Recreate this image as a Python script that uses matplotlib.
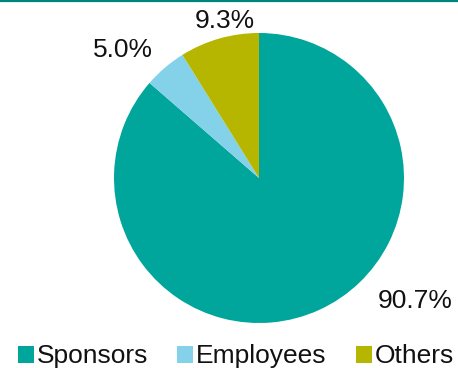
import matplotlib.pyplot as plt
from matplotlib.lines import Line2D

# Funding sources (percent)
labels = ["Sponsors", "Employees", "Others"]
values = [90.7, 5.0, 9.3]
colors = ["#00a59b", "#84d2ea", "#b6b600"]

# where each percentage label sits (data units, radius = 1)
label_pos = [(1.076, -0.845), (-0.935, 0.88), (-0.234, 1.085)]

plt.rcParams["font.family"] = ["Liberation Sans", "DejaVu Sans"]

fig = plt.figure(figsize=(4.58, 3.68), dpi=100)
ax = fig.add_axes([0, 0, 1, 1])

wedges, _ = ax.pie(values, colors=colors, startangle=90, counterclock=False,
                   radius=1, center=(0, 0), wedgeprops=dict(linewidth=0))

for v, (x, y) in zip(values, label_pos):
    ax.text(x, y, f"{v:.1f}%", ha="center", va="center", fontsize=19, color="#111111")

# 1 data unit = 145 px, centre of the pie at (259, 178) px from top-left
ax.set_xlim(-259 / 145, (458 - 259) / 145)
ax.set_ylim(-(368 - 178) / 145, 178 / 145)
ax.set_aspect("equal")
ax.axis("off")

fig.legend(wedges, labels, loc="lower center", bbox_to_anchor=(0.515, -0.03),
           ncol=3, frameon=False, fontsize=19, handlelength=0.6, handleheight=0.6,
           handletextpad=0.12, columnspacing=1.1, borderaxespad=0,
           labelcolor="#111111")

# thin rule along the top edge
fig.add_artist(Line2D([0, 1], [0.997, 0.997], transform=fig.transFigure,
                      color="#00857c", linewidth=1.6))

fig.savefig("out.png", dpi=100)
